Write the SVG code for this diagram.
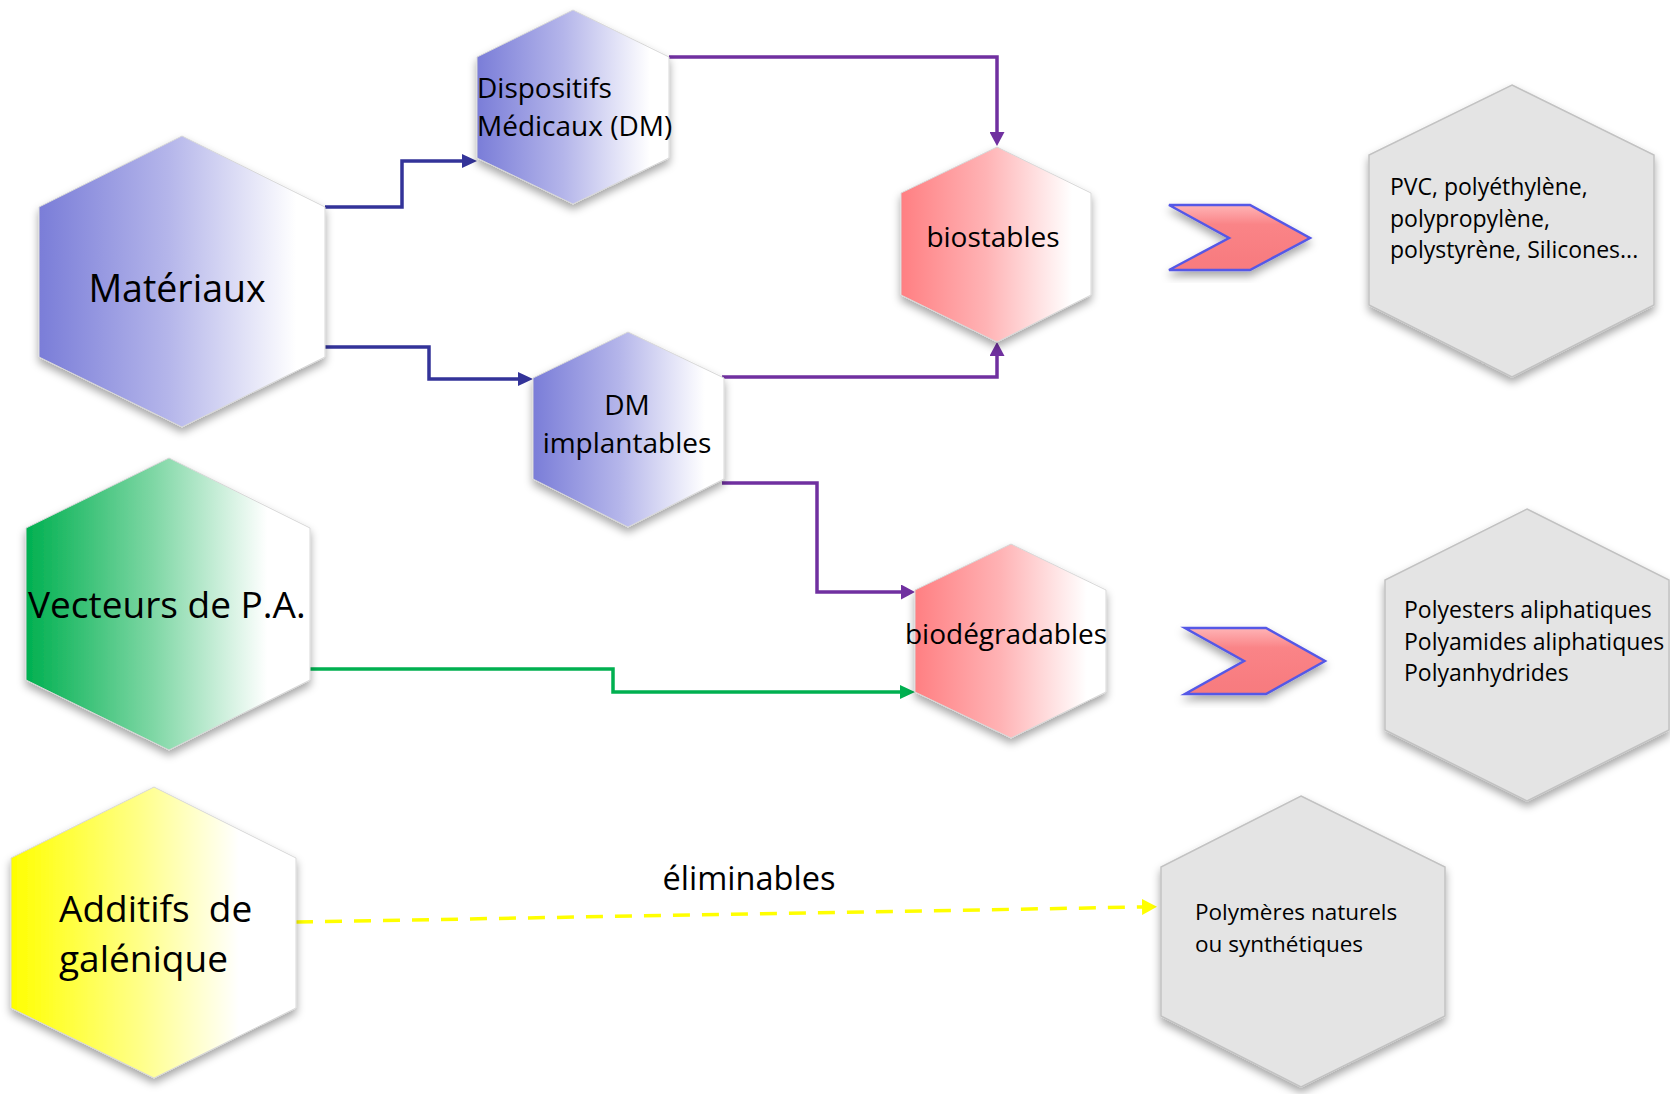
<svg xmlns="http://www.w3.org/2000/svg" width="1670" height="1094" viewBox="0 0 1670 1094">
  <style>
    text { font-family: "Open Sans", "Noto Sans", "Liberation Sans", sans-serif; fill: #000; }
    .hex { filter: url(#shadow); stroke: #d8d8d8; stroke-width: 1; }
    .grey { fill: #e4e4e4; stroke: #c2c2c2; stroke-width: 1.5; }
    .big { font-size: 37.5px; }
    .mid { font-size: 28px; }
    .small { font-size: 23px; }
    .conn { fill: none; stroke-width: 3.5; }
  </style>
  <defs>
    <linearGradient id="gBlue" x1="0" y1="0" x2="1" y2="0">
      <stop offset="0" stop-color="#7a7dd8"/>
      <stop offset="0.45" stop-color="#b4b5ea"/>
      <stop offset="0.9" stop-color="#ffffff"/>
    </linearGradient>
    <linearGradient id="gPink" x1="0" y1="0" x2="1" y2="0">
      <stop offset="0" stop-color="#ff7f82"/>
      <stop offset="0.45" stop-color="#ffb3b5"/>
      <stop offset="0.9" stop-color="#ffffff"/>
    </linearGradient>
    <linearGradient id="gGreen" x1="0" y1="0" x2="1" y2="0">
      <stop offset="0" stop-color="#00b050"/>
      <stop offset="0.45" stop-color="#7fd7a5"/>
      <stop offset="0.85" stop-color="#ffffff"/>
    </linearGradient>
    <linearGradient id="gYellow" x1="0" y1="0" x2="1" y2="0">
      <stop offset="0" stop-color="#ffff00"/>
      <stop offset="0.45" stop-color="#ffff88"/>
      <stop offset="0.8" stop-color="#ffffff"/>
    </linearGradient>
    <linearGradient id="gChev" x1="0" y1="0" x2="0" y2="1">
      <stop offset="0" stop-color="#ffb4b6"/>
      <stop offset="0.3" stop-color="#fa8487"/>
      <stop offset="1" stop-color="#f77a7e"/>
    </linearGradient>
    <filter id="shadow" x="-20%" y="-20%" width="140%" height="140%">
      <feDropShadow dx="0" dy="5" stdDeviation="4" flood-color="#000" flood-opacity="0.35"/>
    </filter>
    <marker id="mBlue" viewBox="0 0 15 14" refX="1" refY="7" markerWidth="15" markerHeight="14" markerUnits="userSpaceOnUse" orient="auto">
      <path d="M0,0 L15,7 L0,14 z" fill="#333399"/>
    </marker>
    <marker id="mPurple" viewBox="0 0 14 15" refX="1" refY="7.5" markerWidth="14" markerHeight="15" markerUnits="userSpaceOnUse" orient="auto">
      <path d="M0,0 L14,7.5 L0,15 z" fill="#7030a0"/>
    </marker>
    <marker id="mGreen" viewBox="0 0 15 14" refX="1" refY="7" markerWidth="15" markerHeight="14" markerUnits="userSpaceOnUse" orient="auto">
      <path d="M0,0 L15,7 L0,14 z" fill="#00b050"/>
    </marker>
    <marker id="mYellow" viewBox="0 0 15 16" refX="1" refY="8" markerWidth="15" markerHeight="16" markerUnits="userSpaceOnUse" orient="auto">
      <path d="M0,0 L15,8 L0,16 z" fill="#ffff00"/>
    </marker>
  </defs>

  <rect width="1670" height="1094" fill="#ffffff"/>

  <g id="connectors">
    <path class="conn" stroke="#333399" d="M325,207 H402 V161 H463" marker-end="url(#mBlue)"/>
    <path class="conn" stroke="#333399" d="M325,347 H429 V379 H519" marker-end="url(#mBlue)"/>
    <path class="conn" stroke="#7030a0" d="M669,57 H997 V133" marker-end="url(#mPurple)"/>
    <path class="conn" stroke="#7030a0" d="M722,377 H997 V355" marker-end="url(#mPurple)"/>
    <path class="conn" stroke="#7030a0" d="M722,483 H817 V592 H902" marker-end="url(#mPurple)"/>
    <path class="conn" stroke="#00b050" d="M310,669 H613 V692 H901" marker-end="url(#mGreen)"/>
    <path class="conn" stroke="#ffff00" stroke-width="5.5" stroke-dasharray="17 12" d="M296,922 L1143,907" marker-end="url(#mYellow)"/>
  </g>

  <g id="materiaux">
    <polygon class="hex" fill="url(#gBlue)" points="182,136 325,207 325,357 182,427 39,357 39,207"/>
    <text class="big" x="177" y="302" text-anchor="middle">Matériaux</text>
  </g>

  <g id="dispositifs">
    <polygon class="hex" fill="url(#gBlue)" points="573,10 669,57 669,158 573,204 477,158 477,57"/>
    <text class="mid" x="477" y="98">Dispositifs</text>
    <text class="mid" x="477" y="136">Médicaux (DM)</text>
  </g>

  <g id="dm-implantables">
    <polygon class="hex" fill="url(#gBlue)" points="628,332 724,378 724,479 628,527 533,479 533,378"/>
    <text class="mid" x="627" y="415" text-anchor="middle">DM</text>
    <text class="mid" x="627" y="453" text-anchor="middle">implantables</text>
  </g>

  <g id="biostables">
    <polygon class="hex" fill="url(#gPink)" points="997,147 1091,193 1091,295 997,342 901,295 901,193"/>
    <text class="mid" x="993" y="247" text-anchor="middle">biostables</text>
  </g>

  <g id="biodegradables">
    <polygon class="hex" fill="url(#gPink)" points="1011,544 1106,590 1106,692 1011,738 915,692 915,590"/>
    <text class="mid" x="1006" y="644" text-anchor="middle">biodégradables</text>
  </g>

  <g id="vecteurs">
    <polygon class="hex" fill="url(#gGreen)" points="169,458 310,528 310,680 169,750 26,680 26,528"/>
    <text class="big" x="28" y="618" style="font-size:37px">Vecteurs de P.A.</text>
  </g>

  <g id="additifs">
    <polygon class="hex" fill="url(#gYellow)" points="154,787 296,858 296,1008 154,1078 11,1008 11,858"/>
    <text class="big" x="59" y="922" style="font-size:37px" xml:space="preserve">Additifs  de</text>
    <text class="big" x="59" y="972" style="font-size:37px">galénique</text>
  </g>

  <g id="chevron-1">
    <polygon filter="url(#shadow)" fill="url(#gChev)" stroke="#5558e6" stroke-width="2.5" stroke-linejoin="miter" points="1169,205 1250,205 1310,238 1250,270 1169,270 1229,238"/>
  </g>

  <g id="chevron-2">
    <polygon filter="url(#shadow)" fill="url(#gChev)" stroke="#5558e6" stroke-width="2.5" stroke-linejoin="miter" points="1185,628 1266,628 1325,661 1266,694 1185,694 1244,661"/>
  </g>

  <g id="pvc">
    <polygon class="hex grey" points="1512,85 1654,155 1654,305 1512,377 1369,305 1369,155"/>
    <text class="small" x="1390" y="195">PVC, polyéthylène,</text>
    <text class="small" x="1390" y="227">polypropylène,</text>
    <text class="small" x="1390" y="258">polystyrène, Silicones...</text>
  </g>

  <g id="polyesters">
    <polygon class="hex grey" points="1527,509 1669,580 1669,730 1527,801 1385,730 1385,580"/>
    <text class="small" x="1404" y="618">Polyesters aliphatiques</text>
    <text class="small" x="1404" y="650">Polyamides aliphatiques</text>
    <text class="small" x="1404" y="681">Polyanhydrides</text>
  </g>

  <g id="polymeres">
    <polygon class="hex grey" points="1301,796 1445,867 1445,1016 1301,1087 1161,1016 1161,867"/>
    <text class="small" x="1195" y="920" style="font-size:22.5px">Polymères naturels</text>
    <text class="small" x="1195" y="952" style="font-size:22.5px">ou synthétiques</text>
  </g>

  <g id="label-eliminables">
    <text x="749" y="890" text-anchor="middle" style="font-size:32.5px">éliminables</text>
  </g>
</svg>
